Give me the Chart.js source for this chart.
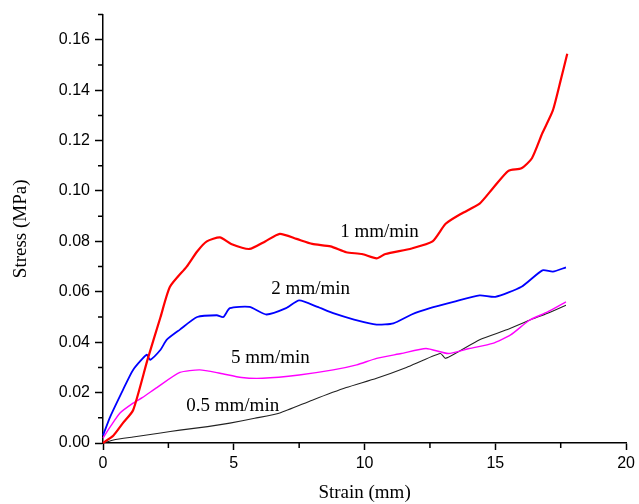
<!DOCTYPE html>
<html>
<head>
<meta charset="utf-8">
<script src="https://cdn.jsdelivr.net/npm/chart.js@4.4.1/dist/chart.umd.min.js"></script>
<style>
  body { margin: 0; background: #fff; }
  #wrap { width: 639px; height: 504px; }
</style>
</head>
<body>
<div id="wrap"><canvas id="stressChart" width="639" height="504"></canvas></div>
<script>
// strain (mm) / stress (MPa)
const redX = [0, 0.4, 0.76, 1.15, 1.7, 2.2, 2.56, 3.2, 3.6, 3.97, 4.47, 4.9, 5.6, 6.2, 6.76, 7.4, 8.0, 8.7, 9.3, 9.9, 10.46, 10.8, 11.8, 12.6, 13.1, 13.7, 14.4, 14.9, 15.5, 16.0, 16.4, 16.8, 17.2, 17.5, 17.75];
const redY = [0, 0.003, 0.0079, 0.013, 0.033, 0.050, 0.062, 0.070, 0.076, 0.080, 0.0816, 0.079, 0.077, 0.080, 0.083, 0.081, 0.079, 0.078, 0.0757, 0.075, 0.0733, 0.075, 0.0772, 0.080, 0.087, 0.091, 0.095, 0.101, 0.108, 0.109, 0.113, 0.123, 0.132, 0.144, 0.1545];

const blueX = [0, 0.27, 0.76, 1.15, 1.67, 1.8, 2.2, 2.44, 2.94, 3.6, 4.35, 4.6, 4.85, 5.6, 6.25, 7.0, 7.5, 8.2, 8.8, 9.6, 10.46, 11.1, 11.8, 12.5, 13.4, 14.4, 15.0, 16.0, 16.8, 17.2, 17.7];
const blueY = [0.003, 0.0103, 0.021, 0.029, 0.035, 0.033, 0.037, 0.041, 0.045, 0.050, 0.0507, 0.050, 0.0535, 0.054, 0.051, 0.0535, 0.0566, 0.054, 0.0515, 0.049, 0.047, 0.0475, 0.051, 0.0535, 0.056, 0.0586, 0.058, 0.062, 0.0685, 0.068, 0.0697];

const pinkX = [0, 0.27, 0.65, 1.15, 1.5, 2.06, 2.94, 3.7, 4.47, 5.3, 6.1, 7.5, 8.8, 9.7, 10.46, 11.4, 12.35, 13.2, 14.0, 14.9, 15.6, 16.3, 17.0, 17.7];
const pinkY = [0.002, 0.0063, 0.0119, 0.0158, 0.018, 0.022, 0.028, 0.029, 0.0277, 0.026, 0.0257, 0.027, 0.029, 0.031, 0.0336, 0.0355, 0.0375, 0.0355, 0.0375, 0.0395, 0.043, 0.0487, 0.052, 0.056];

const blackX = [0, 0.4, 1.15, 2.2, 2.94, 4.0, 4.85, 5.8, 6.76, 8.0, 9.3, 10.46, 11.6, 12.9, 13.1, 14.4, 15.4, 16.3, 17.0, 17.7];
const blackY = [0, 0.0012, 0.0024, 0.004, 0.0051, 0.0065, 0.0079, 0.0098, 0.0119, 0.017, 0.022, 0.0257, 0.030, 0.0355, 0.0336, 0.041, 0.0448, 0.0487, 0.0515, 0.0547];

const xTicks = [0, 5, 10, 15, 20];
const yTicks = [0, 0.02, 0.04, 0.06, 0.08, 0.10, 0.12, 0.14, 0.16];
const xMinor = [2.5, 7.5, 12.5, 17.5];
const yMinor = [0.01, 0.03, 0.05, 0.07, 0.09, 0.11, 0.13, 0.15, 0.17];

const labels = [
  { text: '1 mm/min', x: 10.57, y: 0.0836 },
  { text: '2 mm/min', x: 7.94, y: 0.061 },
  { text: '5 mm/min', x: 6.4, y: 0.0337 },
  { text: '0.5 mm/min', x: 4.96, y: 0.0147 }
];

function pts(xs, ys) {
  return xs.map((x, i) => ({ x: x, y: ys[i] }));
}

const serif = '"Liberation Serif", "Times New Roman", serif';
const sans = '"Liberation Sans", Arial, sans-serif';

const extras = {
  id: 'extras',
  afterDraw(chart) {
    const ctx = chart.ctx;
    const xs = chart.scales.x;
    const ys = chart.scales.y;
    ctx.save();
    ctx.strokeStyle = '#000';
    ctx.lineWidth = 1.5;
    ctx.beginPath();
    xMinor.forEach(v => {
      const px = xs.getPixelForValue(v);
      ctx.moveTo(px, xs.top);
      ctx.lineTo(px, xs.top + 5);
    });
    yMinor.forEach(v => {
      const py = ys.getPixelForValue(v);
      ctx.moveTo(ys.right, py);
      ctx.lineTo(ys.right - 5, py);
    });
    ctx.stroke();

    ctx.fillStyle = '#000';
    ctx.font = '19px ' + serif;
    ctx.textAlign = 'center';
    ctx.textBaseline = 'middle';
    labels.forEach(l => {
      ctx.fillText(l.text, xs.getPixelForValue(l.x), ys.getPixelForValue(l.y));
    });
    ctx.restore();
  }
};

const ctx = document.getElementById('stressChart').getContext('2d');
new Chart(ctx, {
  type: 'scatter',
  data: {
    datasets: [
      { data: pts(redX, redY), borderColor: '#ff0000', borderWidth: 2.2 },
      { data: pts(blueX, blueY), borderColor: '#0000ff', borderWidth: 1.8 },
      { data: pts(pinkX, pinkY), borderColor: '#ff00ff', borderWidth: 1.4 },
      { data: pts(blackX, blackY), borderColor: '#222222', borderWidth: 1.1 }
    ].map(d => Object.assign(d, { showLine: true, pointRadius: 0, tension: 0.2, fill: false, clip: false }))
  },
  options: {
    responsive: false,
    animation: false,
    layout: { padding: { left: 1, right: 7, top: 14, bottom: 0 } },
    plugins: {
      legend: { display: false },
      tooltip: { enabled: false }
    },
    scales: {
      x: {
        type: 'linear',
        min: 0,
        max: 20,
        afterFit: s => { s.height = 61; },
        afterBuildTicks: s => { s.ticks = xTicks.map(v => ({ value: v })); },
        border: { display: true, color: '#000', width: 1.5 },
        grid: { display: true, drawOnChartArea: false, drawTicks: true, tickLength: 7, tickColor: '#000', tickWidth: 1.5 },
        ticks: { color: '#000', font: { family: sans, size: 16 }, padding: 4, maxRotation: 0 },
        title: { display: true, text: 'Strain (mm)', color: '#000', font: { family: serif, size: 19 }, padding: { top: 0, bottom: 0 } }
      },
      y: {
        min: 0,
        max: 0.17,
        afterFit: s => { s.width = 102; },
        afterBuildTicks: s => { s.ticks = yTicks.map(v => ({ value: v })); },
        border: { display: true, color: '#000', width: 1.5 },
        grid: { display: true, drawOnChartArea: false, drawTicks: true, tickLength: 8, tickColor: '#000', tickWidth: 1.5 },
        ticks: { color: '#000', font: { family: sans, size: 16 }, padding: 5, callback: v => v.toFixed(2) },
        title: { display: true, text: 'Stress (MPa)', color: '#000', font: { family: serif, size: 19 }, padding: { top: 9, bottom: 0 } }
      }
    }
  },
  plugins: [extras]
});
</script>
</body>
</html>
